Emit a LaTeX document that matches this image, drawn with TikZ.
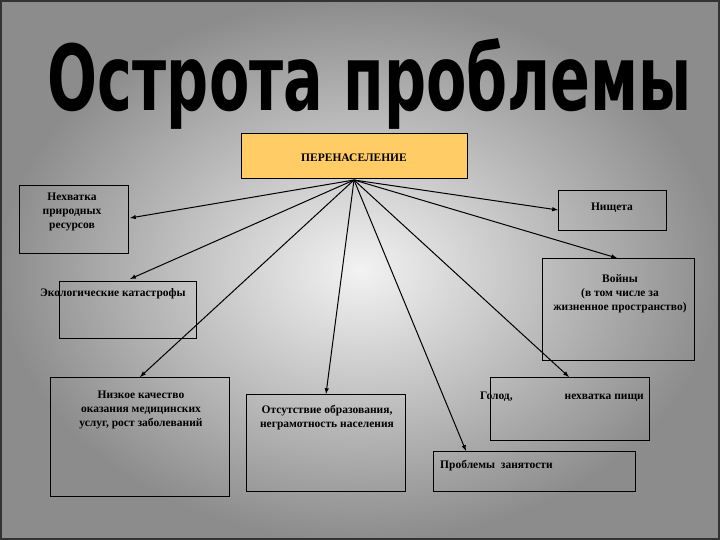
\documentclass[tikz,border=0pt]{standalone}
\usepackage{fontspec}
\setmainfont{Liberation Serif}
\newfontfamily\titlefont{DejaVu Sans}
\definecolor{hubc}{RGB}{255,204,102}
\begin{document}
\begin{tikzpicture}[x=1pt,y=-1pt,
  bx/.style={draw=black,line width=0.8pt},
  lbl/.style={font=\bfseries\fontsize{11.5}{14}\selectfont,align=center,inner sep=0pt},
  ar/.style={-latex,line width=1pt}]
\useasboundingbox (0,0) rectangle (720,540);
\fill[black!55] (0,0) rectangle (720,540);
\shade[inner color=white!95!black,outer color=black!45] (0,0) rectangle (720,540);
\draw[black!80,line width=2pt] (1,1) rectangle (719,539);
\node[inner sep=0pt,anchor=center] (title) at (370,84) {\resizebox{644pt}{72pt}{\titlefont\bfseries Острота проблемы}};
% boxes
\node[bx,fill=hubc,minimum width=226pt,minimum height=45pt,anchor=north west,inner sep=0pt] (hub) at (241,133) {};
\node[lbl] at (354,158) {ПЕРЕНАСЕЛЕНИЕ};
\coordinate (h) at (354,180);
\draw[bx] (19,185) rectangle (128,253);
\node[lbl] (n1) at (72,212) {Нехватка\\природных\\ресурсов};
\draw[bx] (558,190) rectangle (666,230);
\node[lbl] (n2) at (612,208) {Нищета};
\draw[bx] (59,281) rectangle (196,338);
\node[lbl,anchor=west] (n3) at (40,294) {Экологические катастрофы};
\draw[bx] (542,258) rectangle (694,360);
\node[lbl] (n4) at (620,294) {Войны\\(в том числе за\\жизненное пространство)};
\draw[bx] (50,377) rectangle (229,496);
\node[lbl] (n5) at (141,410) {Низкое качество\\оказания медицинских\\услуг, рост заболеваний};
\draw[bx] (246,394) rectangle (405,491);
\node[lbl] (n6) at (327,418) {Отсутствие образования,\\неграмотность населения};
\draw[bx] (490,377) rectangle (649,440);
\node[lbl,anchor=west] (n7) at (480,397) {Голод,\hspace{52pt}нехватка пищи};
\draw[bx] (433,451) rectangle (635,491);
\node[lbl,anchor=west] (n8) at (440,466) {Проблемы\ \ занятости};
% arrows
\coordinate (e1) at (130,218); \coordinate (e2) at (558,210);
\coordinate (e3) at (130,279); \coordinate (e4) at (617,258);
\coordinate (e5) at (140,377); \coordinate (e6) at (326,394);
\coordinate (e7) at (569,377); \coordinate (e8) at (466,451);
\foreach \e in {e1,e2,e3,e4,e5,e6,e7,e8} \draw[ar] (h) -- (\e);
\end{tikzpicture}
\end{document}
